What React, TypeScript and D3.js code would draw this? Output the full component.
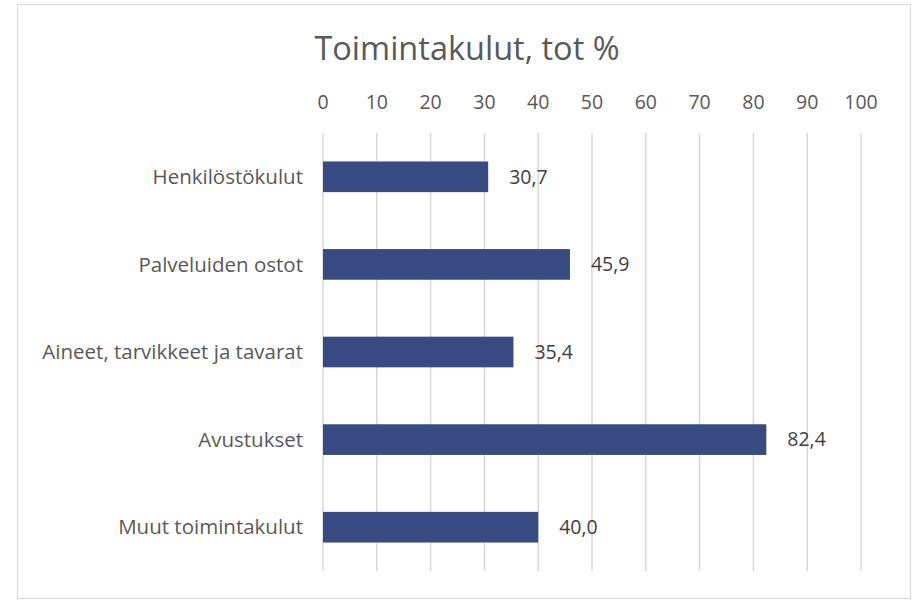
import React, { useRef, useEffect } from 'react';
import * as d3 from 'd3';

const categories = ['Henkilöstökulut', 'Palveluiden ostot', 'Aineet, tarvikkeet ja tavarat', 'Avustukset', 'Muut toimintakulut'];
const values = [30.7, 45.9, 35.4, 82.4, 40.0];
const ticks = [0, 10, 20, 30, 40, 50, 60, 70, 80, 90, 100];
const title = 'Toimintakulut, tot %';

const font = "'Open Sans', sans-serif";
const textColor = '#595959';

const App = () => {
  const svgRef = useRef<SVGSVGElement>(null);

  useEffect(() => {
    const svg = d3.select(svgRef.current);
    svg.selectAll('*').remove();

    const width = 912;
    const height = 600;
    const margin = { top: 133, bottom: 29, left: 323, right: 51 };

    svg.append('rect')
      .attr('x', 17.5).attr('y', 4.5)
      .attr('width', width - 19).attr('height', height - 6)
      .attr('fill', '#fff').attr('stroke', '#d9d9d9');

    const x = d3.scaleLinear().domain([0, 100]).range([margin.left, width - margin.right]);
    const y = d3.scaleBand().domain(categories)
      .range([margin.top, height - margin.bottom])
      .paddingInner(0.65).paddingOuter(0.325);

    svg.append('text')
      .attr('x', 467).attr('y', 60)
      .attr('text-anchor', 'middle')
      .style('font-family', font).style('font-size', 32.5)
      .attr('fill', textColor)
      .text(title);

    // gridlines
    svg.append('g').selectAll('line').data(ticks).join('line')
      .attr('x1', d => x(d)).attr('x2', d => x(d))
      .attr('y1', margin.top).attr('y2', height - margin.bottom)
      .attr('stroke', '#d9d9d9').attr('stroke-width', 1.5);

    // top axis labels
    svg.append('g').selectAll('text').data(ticks).join('text')
      .attr('x', d => x(d)).attr('y', 109)
      .attr('text-anchor', 'middle')
      .style('font-family', font).style('font-size', 19.5)
      .attr('fill', textColor)
      .text(d => d);

    const rows = svg.append('g').selectAll('g').data(categories).join('g');

    rows.append('rect')
      .attr('x', x(0))
      .attr('y', d => y(d)!)
      .attr('width', (d, i) => x(values[i]) - x(0))
      .attr('height', y.bandwidth())
      .attr('fill', '#374a82');

    rows.append('text')
      .attr('x', 303)
      .attr('y', d => y(d)! + y.bandwidth() / 2)
      .attr('dy', '0.35em')
      .attr('text-anchor', 'end')
      .style('font-family', font).style('font-size', 20.5)
      .attr('fill', textColor)
      .text(d => d);

    rows.append('text')
      .attr('x', (d, i) => x(values[i]) + 21)
      .attr('y', d => y(d)! + y.bandwidth() / 2)
      .attr('dy', '0.35em')
      .style('font-family', font).style('font-size', 19.5)
      .attr('fill', '#404040')
      .text((d, i) => values[i].toFixed(1).replace('.', ','));
  }, []);

  return (
    <svg ref={svgRef} width={912} height={600} style={{ position: 'absolute', left: 0, top: 0 }} />
  );
};

export default App;
